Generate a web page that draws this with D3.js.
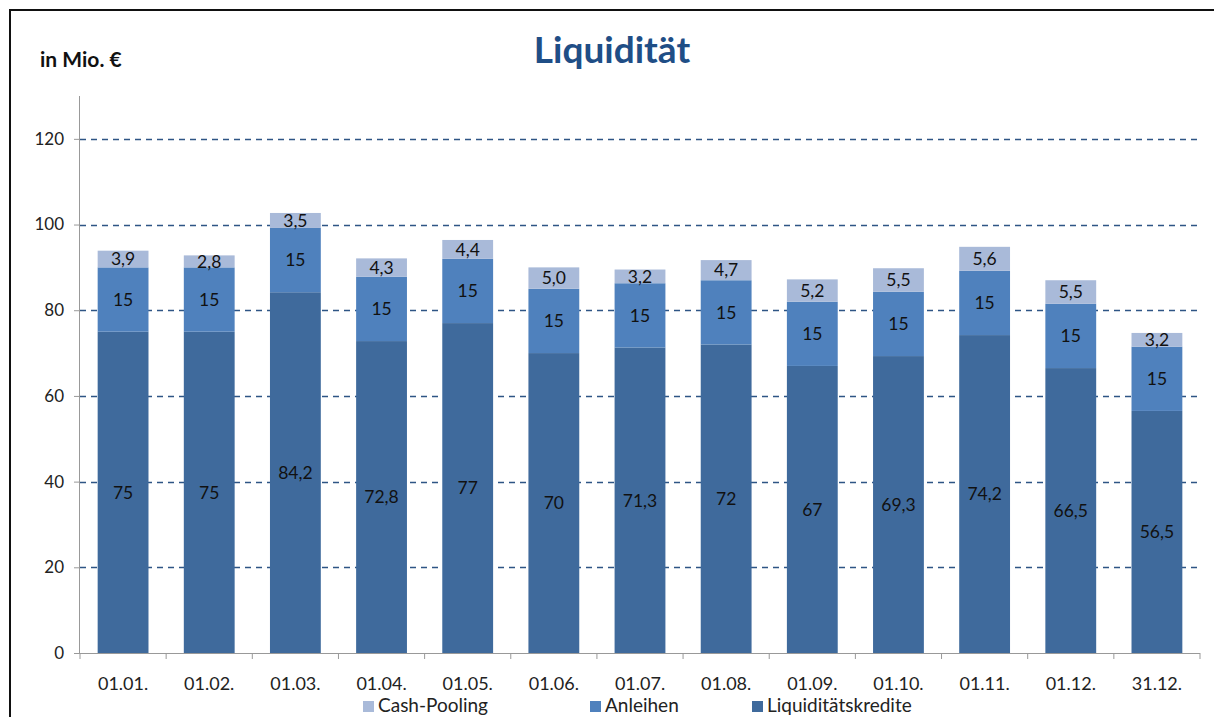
<!DOCTYPE html>
<html><head><meta charset="utf-8">
<script src="https://cdn.jsdelivr.net/npm/d3@7"></script>
<style>
body{margin:0;background:#fff;}
svg{display:block;font-family:Lato,"Open Sans",sans-serif;}
</style></head>
<body><svg id="c" width="1214" height="717"></svg>
<script>
const categories = ["01.01.","01.02.","01.03.","01.04.","01.05.","01.06.","01.07.","01.08.","01.09.","01.10.","01.11.","01.12.","31.12."];
const liquiditaetskredite = [75,75,84.2,72.8,77,70,71.3,72,67,69.3,74.2,66.5,56.5];
const anleihen = [15,15,15,15,15,15,15,15,15,15,15,15,15];
const cashPooling = [3.9,2.8,3.5,4.3,4.4,5.0,3.2,4.7,5.2,5.5,5.6,5.5,3.2];
const seriesNames = ["Liquiditätskredite","Anleihen","Cash-Pooling"];
const yTicks = [0,20,40,60,80,100,120];
const colors = {"Liquiditätskredite":"#3F6A9C","Anleihen":"#4F81BD","Cash-Pooling":"#A9BAD9"};

const svg = d3.select("#c");
// border
svg.append("line").attr("x1",9).attr("x2",1214).attr("y1",10).attr("y2",10).attr("stroke","#111").attr("stroke-width",2);
svg.append("line").attr("x1",10).attr("x2",10).attr("y1",9).attr("y2",717).attr("stroke","#111").attr("stroke-width",2);

const x0=80,x1=1200,yB=653,yT=96;
const x = d3.scaleBand().domain(categories).range([x0,x1]).paddingInner(0.41).paddingOuter(0.205);
const y = d3.scaleLinear().domain([0,130]).range([yB,yT]);

// grid
svg.append("g").selectAll("line").data(yTicks.filter(d=>d>0)).join("line")
 .attr("x1",x0).attr("x2",x1).attr("y1",d=>Math.round(y(d))+0.5).attr("y2",d=>Math.round(y(d))+0.5)
 .attr("stroke","#2E5585").attr("stroke-width",1.3).attr("stroke-dasharray","6,5");

const data = categories.map((c,i)=>({cat:c,"Liquiditätskredite":liquiditaetskredite[i],"Anleihen":anleihen[i],"Cash-Pooling":cashPooling[i]}));
const stack = d3.stack().keys(seriesNames)(data);
const fmt = v => String(v).replace(".",",");
const fmt1 = v => v.toFixed(1).replace(".",",");

stack.forEach(s=>{
  const g = svg.append("g");
  g.selectAll("rect").data(s).join("rect")
   .attr("x",d=>x(d.data.cat)).attr("width",x.bandwidth())
   .attr("y",d=>y(d[1])).attr("height",d=>y(d[0])-y(d[1]))
   .attr("fill",colors[s.key]);
  g.selectAll("text").data(s).join("text")
   .attr("x",d=>x(d.data.cat)+x.bandwidth()/2)
   .attr("y",d=>(y(d[0])+y(d[1]))/2)
   .attr("dy","0.36em").attr("text-anchor","middle")
   .attr("font-size",17.5).attr("fill","#111")
   .text(d=>s.key==="Cash-Pooling"?fmt1(d.data[s.key]):fmt(d.data[s.key]));
});

// y axis
const ya = svg.append("g").attr("transform",`translate(${x0},0)`)
 .call(d3.axisLeft(y).tickValues(yTicks).tickSize(6).tickPadding(10).tickFormat(d3.format("d")));
ya.select(".domain").attr("stroke","#999").attr("d",`M-0.5,${yT}V${yB}`);
ya.selectAll(".tick line").attr("stroke","#999");
ya.selectAll("text").attr("font-size",17).attr("fill","#222").attr("font-family","Lato,sans-serif");

// x axis
const xa = svg.append("g").attr("transform",`translate(0,${yB})`)
 .call(d3.axisBottom(x).tickSize(0).tickPadding(24));
xa.select(".domain").attr("stroke","#999").attr("d",`M${x0},0.5H${x1}`);
xa.selectAll("text").attr("font-size",18).attr("fill","#222").attr("font-family","Lato,sans-serif");
svg.append("g").selectAll("line").data(d3.range(categories.length+1)).join("line")
 .attr("x1",i=>x0+i*(x1-x0)/categories.length).attr("x2",i=>x0+i*(x1-x0)/categories.length)
 .attr("y1",yB).attr("y2",yB+6).attr("stroke","#999");

// title
svg.append("text").attr("x",612).attr("y",63).attr("text-anchor","middle")
 .attr("font-size",37).attr("font-weight","bold").attr("fill","#1F4E86").text("Liquidität");
svg.append("text").attr("x",40).attr("y",67).attr("font-size",21).attr("font-weight","bold").attr("fill","#111").text("in Mio. €");

// legend
const legendItems = [{k:"Cash-Pooling",x:363},{k:"Anleihen",x:590},{k:"Liquiditätskredite",x:752}];
const lg = svg.append("g");
lg.selectAll("rect").data(legendItems).join("rect").attr("x",d=>d.x).attr("y",701).attr("width",11).attr("height",11).attr("fill",d=>colors[d.k]);
lg.selectAll("text").data(legendItems).join("text").attr("x",d=>d.x+15).attr("y",712).attr("font-size",19).attr("fill","#222").text(d=>d.k);
</script></body></html>
